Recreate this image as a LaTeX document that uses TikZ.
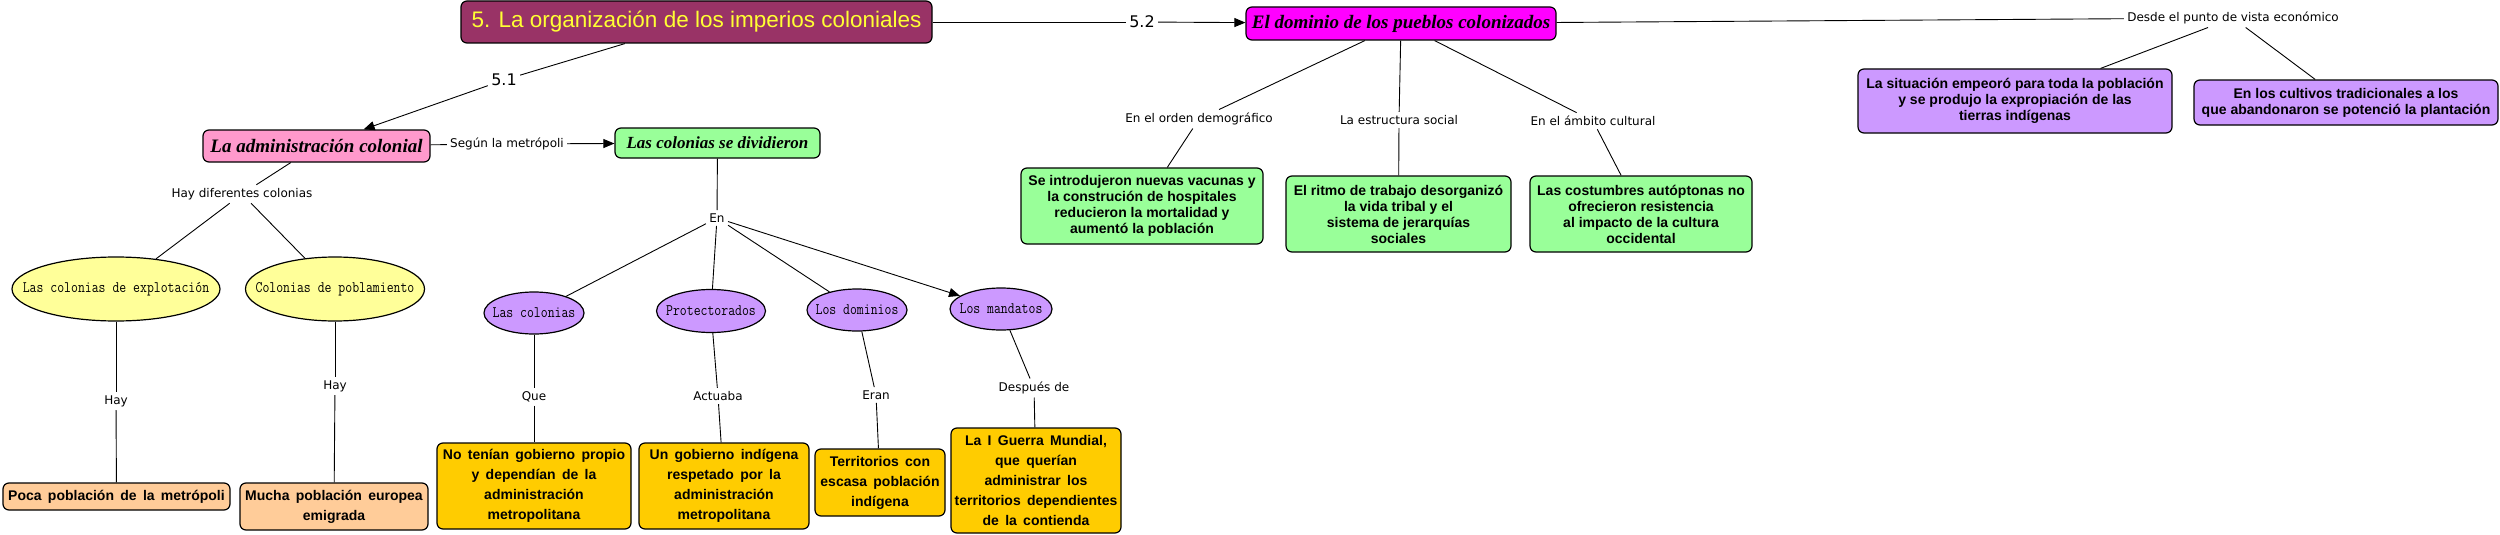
\documentclass[tikz,border=0pt]{standalone}
\usepackage{fontspec}
\setmainfont{Liberation Sans}
\newfontfamily\linkfont{DejaVu Sans}
\newfontfamily\headfont{Liberation Serif}
\usetikzlibrary{shapes.geometric,arrows.meta}
\definecolor{titlefill}{HTML}{993366}
\definecolor{titletext}{HTML}{FFFF33}
\definecolor{magentafill}{HTML}{FF00FF}
\definecolor{pinkfill}{HTML}{FF99CC}
\definecolor{greenfill}{HTML}{99FF99}
\definecolor{purplefill}{HTML}{CC99FF}
\definecolor{yellowfill}{HTML}{FFFF99}
\definecolor{peachfill}{HTML}{FFCC99}
\definecolor{goldfill}{HTML}{FFCC00}
% ellipse text does not widen the ellipse
\newcommand{\ovaltext}[1]{\makebox[0pt]{\scalebox{1}[1.2]{#1}}}
% wide word spaces in the orange boxes
\newcommand{\widespace}{\spaceskip 0.45em\relax}
\begin{document}
\begin{tikzpicture}[x=1pt, y=-1pt, line width=0.9pt,
      >={Triangle[length=11pt,width=9pt]},
      sz/.style 2 args={minimum width=#1pt, minimum height=#2pt},
      box/.style={draw, rounded corners=6pt, line width=1.2pt, align=center, inner sep=0pt,
        font=\fontsize{14}{16}\selectfont\bfseries},
      tallbox/.style={box, font=\fontsize{14}{20}\selectfont\bfseries\widespace},
      head/.style={draw, rounded corners=6pt, line width=1.2pt, inner sep=0pt,
        font=\headfont\fontsize{19}{22}\selectfont\bfseries\itshape},
      oval/.style={draw, ellipse, line width=1.2pt, inner sep=0pt,
        font=\ttfamily\fontsize{13.4}{15}\selectfont},
      lbl/.style={inner sep=3pt, font=\linkfont\fontsize{12}{14}\selectfont},
      num/.style={inner sep=3pt, font=\linkfont\fontsize{16}{18}\selectfont}]
    \useasboundingbox (0,0) rectangle (2500,535);
    % main title and the two parts
    \node[head, sz={471}{42}, fill=titlefill, text=titletext,
      font=\fontsize{22.5}{26}\selectfont] (title) at (696.5,22)
      {5. La organización de los imperios coloniales};
    \node[head, sz={310}{33}, fill=magentafill] (dominio) at (1401,23.5)
      {El dominio de los pueblos colonizados};
    \node[head, sz={227}{32}, fill=pinkfill] (admin) at (316.5,146) {La administración colonial};
    \node[head, sz={205}{30}, fill=greenfill, font=\headfont\fontsize{17}{20}\selectfont\bfseries\itshape]
      (dividieron) at (717.5,143) {Las colonias se dividieron};
    % link labels
    \node[num] (l51) at (504,80) {5.1};
    \node[num] (l52) at (1142,22) {5.2};
    \node[lbl] (lsegun) at (507,144) {Según la metrópoli};
    \node[lbl] (lhay) at (242,194) {Hay diferentes colonias};
    \node[lbl] (lhay1) at (116,401) {Hay};
    \node[lbl] (lhay2) at (335,386) {Hay};
    \node[lbl] (len) at (717,218) {En};
    \node[lbl] (lque) at (534,397) {Que};
    \node[lbl] (lactuaba) at (718,396) {Actuaba};
    \node[lbl] (leran) at (876,395) {Eran};
    \node[lbl] (ldespues) at (1034,388) {Después de};
    \node[lbl] (ldemog) at (1199,119) {En el orden demográfico};
    \node[lbl] (lestruct) at (1399,120) {La estructura social};
    \node[lbl] (lcult) at (1593,121) {En el ámbito cultural};
    \node[lbl] (ldesde) at (2233,18) {Desde el punto de vista económico};
    % types of colonies
    \node[oval, sz={208}{64}, fill=yellowfill] (explot) at (116,289) {\ovaltext{Las colonias de explotación}};
    \node[oval, sz={179}{64}, fill=yellowfill] (poblam) at (335,289) {\ovaltext{Colonias de poblamiento}};
    \node[tallbox, sz={227}{27}, fill=peachfill] (poca) at (116.5,496.5) {Poca población de la metrópoli};
    \node[tallbox, sz={188}{47}, fill=peachfill] (mucha) at (334,506.5) {Mucha población europea\\emigrada};
    % forms of rule
    \node[oval, sz={100}{42}, fill=purplefill] (lascol) at (534,313) {\ovaltext{Las colonias}};
    \node[oval, sz={109}{43}, fill=purplefill] (protect) at (711,311) {\ovaltext{Protectorados}};
    \node[oval, sz={100}{42}, fill=purplefill] (dominios) at (857,310) {\ovaltext{Los dominios}};
    \node[oval, sz={102}{42}, fill=purplefill] (mandatos) at (1001,309) {\ovaltext{Los mandatos}};
    \node[tallbox, sz={194}{86}, fill=goldfill] (gold1) at (534,486)
      {No tenían gobierno propio\\y dependían de la\\administración\\metropolitana};
    \node[tallbox, sz={170}{86}, fill=goldfill] (gold2) at (724,486)
      {Un gobierno indígena\\respetado por la\\administración\\metropolitana};
    \node[tallbox, sz={130}{67}, fill=goldfill] (gold3) at (880,482.5)
      {Territorios con\\escasa población\\indígena};
    \node[tallbox, sz={170}{105}, fill=goldfill] (gold4) at (1036,480.5)
      {La I Guerra Mundial,\\que querían\\administrar los\\territorios dependientes\\de la contienda};
    % effects on the colonized peoples
    \node[box, sz={242}{76}, fill=greenfill] (green1) at (1142,206)
      {Se introdujeron nuevas vacunas y\\la construción de hospitales\\reducieron la mortalidad y\\aumentó la población};
    \node[box, sz={225}{76}, fill=greenfill] (green2) at (1398.5,214)
      {El ritmo de trabajo desorganizó\\la vida tribal y el\\sistema de jerarquías\\sociales};
    \node[box, sz={222}{76}, fill=greenfill] (green3) at (1641,214)
      {Las costumbres autóptonas no\\ofrecieron resistencia\\al impacto de la cultura\\occidental};
    \node[box, sz={314}{64}, fill=purplefill] (econA) at (2015,101)
      {La situación empeoró para toda la población\\y se produjo la expropiación de las\\tierras indígenas};
    \node[box, sz={304}{45}, fill=purplefill] (econB) at (2346,102.5)
      {En los cultivos tradicionales a los\\que abandonaron se potenció la plantación};
    % connectors
    \draw (title) -- (l51);
    \draw[->] (l51) -- (admin);
    \draw (title) -- (l52);
    \draw[->] (l52) -- (dominio);
    \draw (admin) -- (lsegun);
    \draw[->] (lsegun) -- (dividieron);
    \draw (admin) -- (lhay);
    \draw (lhay) -- (explot);
    \draw (lhay) -- (poblam);
    \draw (explot) -- (lhay1);
    \draw (lhay1) -- (poca);
    \draw (poblam) -- (lhay2);
    \draw (lhay2) -- (mucha);
    \draw (dividieron) -- (len);
    \draw (len) -- (lascol);
    \draw (len) -- (protect);
    \draw (len) -- (dominios);
    \draw[->] (len) -- (mandatos);
    \draw (lascol) -- (lque);
    \draw (lque) -- (gold1);
    \draw (protect) -- (lactuaba);
    \draw (lactuaba) -- (gold2);
    \draw (dominios) -- (leran);
    \draw (leran) -- (gold3);
    \draw (mandatos) -- (ldespues);
    \draw (ldespues) -- (gold4);
    \draw (dominio) -- (ldemog);
    \draw (ldemog) -- (green1);
    \draw (dominio) -- (lestruct);
    \draw (lestruct) -- (green2);
    \draw (dominio) -- (lcult);
    \draw (lcult) -- (green3);
    \draw (dominio) -- (ldesde);
    \draw (ldesde) -- (econA);
    \draw (ldesde) -- (econB);
  \end{tikzpicture}
\end{document}
